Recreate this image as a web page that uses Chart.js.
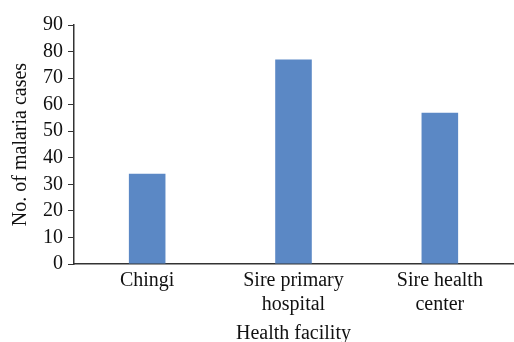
<!DOCTYPE html>
<html>
<head>
<meta charset="utf-8">
<script src="https://cdn.jsdelivr.net/npm/chart.js@4"></script>
<style>
  html, body {margin: 0; padding: 0; background: #fff;}
  #wrap {width: 514px; height: 342px; overflow: hidden;}
</style>
</head>
<body>
<div id="wrap"><canvas id="myChart" width="514" height="346"></canvas></div>
<script>
const categories = [['Chingi'], ['Sire primary', 'hospital'], ['Sire health', 'center']];
const cases = [34, 77, 57];
const yTicks = [0, 10, 20, 30, 40, 50, 60, 70, 80, 90];

const serif = "'Liberation Serif', 'DejaVu Serif', serif";

const data = {
  labels: categories,
  datasets: [{
    label: 'No. of malaria cases',
    data: cases,
    backgroundColor: '#5b88c5',
    borderWidth: 0,
    barPercentage: 0.5,
    categoryPercentage: 0.5
  }]
};

const config = {
  type: 'bar',
  data: data,
  options: {
    responsive: false,
    animation: false,
    layout: {padding: {top: 25, right: 1, left: 9, bottom: 0}},
    scales: {
      x: {
        grid: {display: true, drawOnChartArea: false, drawTicks: false},
        border: {color: '#333', width: 1.5},
        ticks: {color: '#111', font: {family: serif, size: 20}, padding: 5, maxRotation: 0},
        title: {display: true, text: 'Health facility', color: '#111',
                font: {family: serif, size: 20}, padding: {top: 0, bottom: 0}}
      },
      y: {
        min: 0,
        max: 90,
        afterBuildTicks: (axis) => { axis.ticks = yTicks.map(v => ({value: v})); },
        grid: {drawOnChartArea: false, drawTicks: true, tickLength: 6, color: '#333'},
        border: {color: '#333', width: 1.5},
        ticks: {color: '#111', font: {family: serif, size: 20}, padding: 5, autoSkip: false},
        title: {display: true, text: 'No. of malaria cases', color: '#111',
                font: {family: serif, size: 20}, padding: {top: 0, bottom: 5}}
      }
    },
    plugins: {legend: {display: false}, tooltip: {enabled: false}}
  }
};

new Chart(document.getElementById('myChart'), config);
</script>
</body>
</html>
